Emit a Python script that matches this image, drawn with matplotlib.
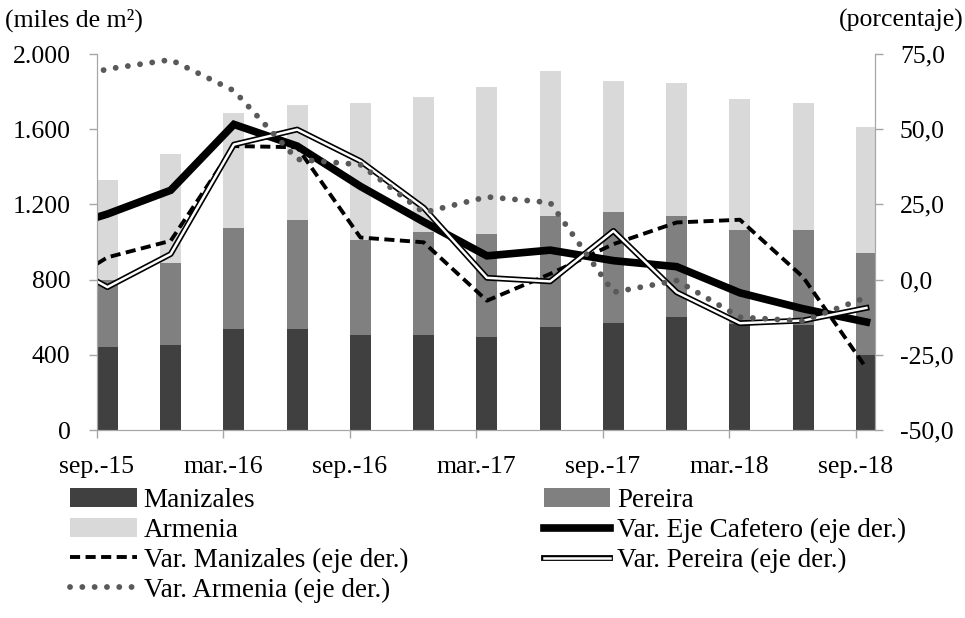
import numpy as np
import matplotlib
matplotlib.use('Agg')
import matplotlib.pyplot as plt
from matplotlib.legend_handler import HandlerTuple
from matplotlib.ticker import FuncFormatter

plt.rcParams['font.family'] = ['Liberation Serif', 'DejaVu Serif']
plt.rcParams['font.size'] = 18.5

# quarters (sep-15 ... sep-18), bars in miles de m2
quarters = ['sep.-15', 'dic.-15', 'mar.-16', 'jun.-16', 'sep.-16', 'dic.-16', 'mar.-17',
            'jun.-17', 'sep.-17', 'dic.-17', 'mar.-18', 'jun.-18', 'sep.-18']
manizales = [441, 454, 537, 537, 503, 503, 494, 547, 569, 600, 562, 556, 401]
pereira = [357, 432, 537, 579, 509, 549, 551, 592, 590, 539, 503, 509, 538]
armenia = [532, 580, 614, 615, 729, 721, 779, 772, 696, 708, 698, 676, 675]

# annual variation (%), first value is jun.-15 (cut off at the left axis)
var_eje = [15.3, 21.8, 29.7, 51.6, 44.4, 31.0, 19.2, 7.9, 9.8, 6.3, 4.3, -4.4, -9.7, -14.1]
var_man = [-5.6, 7.4, 12.9, 44.4, 44.0, 14.0, 12.4, -7.0, 1.9, 11.8, 19.0, 19.9, 0.8, -29.5]
var_per = [9.1, -2.5, 8.5, 44.9, 49.9, 39.4, 23.9, 0.6, -0.6, 16.2, -4.2, -14.5, -13.6, -9.4]
var_arm = [64.3, 70.0, 73.1, 62.8, 40.0, 38.2, 22.3, 27.5, 25.6, -4.2, -0.3, -12.5, -13.8, -5.9]

off = 0.165
xb = np.arange(len(quarters)) + off
xl = np.arange(-1, len(quarters)) + off
w = 0.33

fig = plt.figure(figsize=(9.65, 6.18), dpi=100)
ax = fig.add_axes([0.1005, 0.3042, 0.8062, 0.6084])

b1 = ax.bar(xb, manizales, w, color='#404040')
b2 = ax.bar(xb, pereira, w, bottom=manizales, color='#808080')
bot = np.array(manizales) + np.array(pereira)
b3 = ax.bar(xb, armenia, w, bottom=bot, color='#d9d9d9')

ax.set_xlim(0, 12.3)
ax.set_ylim(0, 2000)
ax.set_yticks(range(0, 2001, 400))
ax.yaxis.set_major_formatter(FuncFormatter(lambda v, p: '{:,.0f}'.format(v).replace(',', '.')))
ax.set_xticks(range(0, 13, 2))
ax.set_xticklabels(quarters[::2])

ax2 = ax.twinx()
ax2.set_ylim(-50, 75)
ax2.set_yticks(range(-50, 76, 25))
ax2.yaxis.set_major_formatter(FuncFormatter(lambda v, p: '{:.1f}'.format(v).replace('.', ',')))

l1, = ax2.plot(xl, var_eje, color='black', lw=5.5, solid_joinstyle='miter')
l2, = ax2.plot(xl, var_man, color='black', lw=2.8, linestyle=(0, (2.6, 1.4)))
l3a, = ax2.plot(xl, var_per, color='black', lw=4.2)
l3b, = ax2.plot(xl, var_per, color='white', lw=1.8)
l4, = ax2.plot(xl, var_arm, color='#595959', lw=4.2, linestyle=(0, (0.01, 2.1)),
               dash_capstyle='round')

grey = '#a6a6a6'
for a in (ax, ax2):
    a.spines['top'].set_visible(False)
    for s in ('left', 'right', 'bottom'):
        a.spines[s].set_color(grey)
    a.tick_params(colors=grey, labelcolor='black', length=6, width=1)
ax.tick_params(axis='x', pad=13)
ax.tick_params(axis='y', pad=13)
ax2.tick_params(axis='y', pad=12)

fig.text(0.005, 0.967, '(miles de m²)', ha='left', va='center')
fig.text(0.999, 0.967, '(porcentaje)', ha='right', va='center')

handles = [b1, b3, l2, l4, b2, l1, (l3a, l3b)]
labels = ['Manizales', 'Armenia', 'Var. Manizales (eje der.)', 'Var. Armenia (eje der.)',
          'Pereira', 'Var. Eje Cafetero (eje der.)', 'Var. Pereira (eje der.)']
fig.legend(handles, labels, ncol=2, loc='upper left', bbox_to_anchor=(0.0725, 0.2104),
           frameon=False, borderpad=0, borderaxespad=0, fontsize=19.5, handlelength=2.47,
           handletextpad=0.25, labelspacing=0.18, columnspacing=5.0,
           handler_map={tuple: HandlerTuple(ndivide=1)})

fig.savefig('out.png', dpi=100)
